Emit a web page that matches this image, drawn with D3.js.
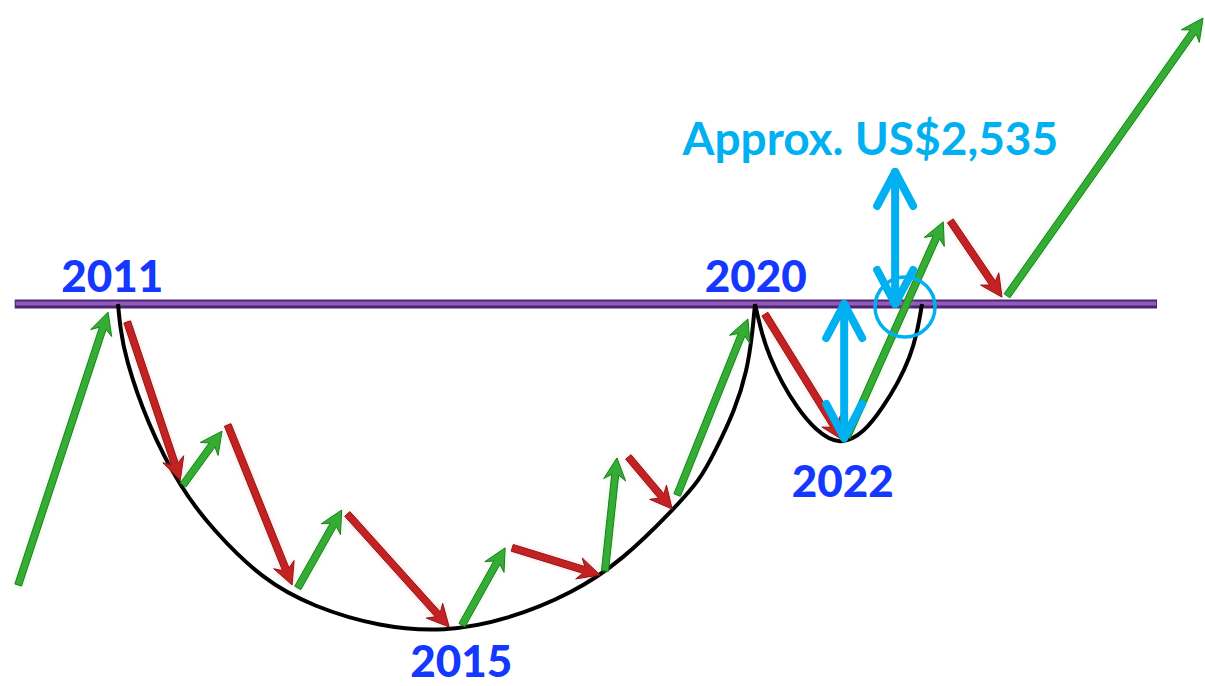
<!DOCTYPE html>
<html>
<head>
<meta charset="utf-8">
<script src="https://cdn.jsdelivr.net/npm/d3@7/dist/d3.min.js"></script>
<style>
  html, body { margin: 0; padding: 0; background: #fff; }
  svg { display: block; }
</style>
</head>
<body>
<svg id="chart"></svg>
<script>
'use strict';

// x in years, y as a price level where the 2011/2020 resistance = 100 and the cup low = 0
var resistance = { from: 2009.54, to: 2025.68, level: 100 };

var cupYears  = [2011, 2011.03, 2011.10, 2011.41, 2011.88, 2012.34, 2013.05, 2013.76, 2014.70, 2015.62, 2016.50, 2017.43, 2018.13, 2018.84, 2019.22, 2019.41, 2019.72, 2019.89, 2019.96, 2020];
var cupLevels = [100, 93, 83.7, 63.5, 43.6, 30.7, 15.3, 7.1, 0.9, -0.6, 3.1, 11.3, 21.5, 36.8, 46.0, 53.7, 67.5, 79.8, 90.5, 100];

var handleYears  = [2020, 2020.10, 2020.21, 2020.38, 2020.59, 2020.85, 2021.20, 2021.55, 2021.81, 2022.02, 2022.19, 2022.29, 2022.36];
var handleLevels = [100, 90.5, 83.7, 75.8, 68.4, 61.3, 56.4, 60.7, 68.4, 75.8, 83.7, 91.1, 100];

// price moves: start year/level -> end year/level, up = green, down = red
var moveFromYear  = [2009.59, 2011.13, 2011.92, 2012.55, 2013.54, 2014.24, 2015.86, 2016.57, 2017.88, 2018.21, 2018.90, 2020.14, 2021.30, 2022.76, 2023.56];
var moveFromLevel = [13.8, 94.5, 44.5, 62.9, 12.9, 35.6, 1.5, 25.2, 18.1, 53.1, 41.4, 96.9, 59.2, 125.5, 102.5];
var moveToYear    = [2010.86, 2011.88, 2012.47, 2013.46, 2014.16, 2015.68, 2016.47, 2017.81, 2018.05, 2018.83, 2019.90, 2021.24, 2022.66, 2023.49, 2026.33];
var moveToLevel   = [97.5, 46.0, 61.0, 13.8, 36.8, 0.9, 25.2, 16.9, 52.8, 37.1, 95.4, 58.3, 125.2, 102.1, 187.7];

// measured distances (double arrows) and breakout marker
var measureYear = [2021.98, 2021.26];
var measureTop  = [140.5, 100];
var measureBot  = [100, 58.9];
var breakout = { year: 2022.12, level: 99.1 };

var labelText  = ['2011', '2020', '2022', '2015'];
var labelYear  = [2010.92, 2020.01, 2021.24, 2015.85];
var labelLevel = [103.7, 103.7, 40.8, -14.4];
var priceLabel = { text: 'Approx. US$2,535', year: 2021.63, level: 145.7 };

var width = 1205, height = 686;

var x = d3.scaleLinear().domain([2011, 2020]).range([118, 755]);
var y = d3.scaleLinear().domain([0, 100]).range([630, 304]);

var svg = d3.select('#chart')
    .attr('width', width)
    .attr('height', height);

// resistance line
var rl = svg.append('g');
rl.append('line')
    .attr('x1', x(resistance.from)).attr('x2', x(resistance.to))
    .attr('y1', y(resistance.level)).attr('y2', y(resistance.level))
    .attr('stroke', '#4e2472').attr('stroke-width', 9);
rl.append('line')
    .attr('x1', x(resistance.from) + 1).attr('x2', x(resistance.to) - 1)
    .attr('y1', y(resistance.level) - 0.5).attr('y2', y(resistance.level) - 0.5)
    .attr('stroke', '#8f5cba').attr('stroke-width', 4);

// cup and handle
var curve = d3.line()
    .x(function(d) { return x(d[0]); })
    .y(function(d) { return y(d[1]); })
    .curve(d3.curveBasis);

svg.append('path')
    .datum(d3.zip(cupYears, cupLevels))
    .attr('d', curve)
    .attr('fill', 'none').attr('stroke', '#000').attr('stroke-width', 4);

svg.append('path')
    .datum(d3.zip(handleYears, handleLevels))
    .attr('d', curve)
    .attr('fill', 'none').attr('stroke', '#000').attr('stroke-width', 4);

// arrows
function arrowPoints(a, b) {
    var dx = b[0] - a[0], dy = b[1] - a[1];
    var L = Math.sqrt(dx * dx + dy * dy);
    var ux = dx / L, uy = dy / L, nx = -uy, ny = ux;
    var sw = 3.5, hl = 22, hw = 11, notch = 5;
    function pt(u, v) { return [a[0] + ux * u + nx * v, a[1] + uy * u + ny * v]; }
    return [pt(0, -sw), pt(L - hl + notch, -sw), pt(L - hl, -hw), pt(L, 0),
            pt(L - hl, hw), pt(L - hl + notch, sw), pt(0, sw)];
}

var moves = moveFromYear.map(function(d, i) {
    return {
        a: [x(d), y(moveFromLevel[i])],
        b: [x(moveToYear[i]), y(moveToLevel[i])],
        up: moveToLevel[i] > moveFromLevel[i]
    };
});

var defs = svg.append('defs');
defs.append('filter').attr('id', 'glow')
    .attr('x', '-20%').attr('y', '-20%').attr('width', '140%').attr('height', '140%')
  .append('feGaussianBlur').attr('stdDeviation', 2.5);

var ag = svg.append('g');
ag.selectAll('polygon.glow')
    .data(moves)
  .enter().append('polygon')
    .attr('class', 'glow')
    .attr('points', function(d) { return arrowPoints(d.a, d.b).join(' '); })
    .attr('fill', function(d) { return d.up ? '#7be07b' : '#f07070'; })
    .attr('opacity', 0.35)
    .attr('filter', 'url(#glow)');

ag.selectAll('polygon.arrow')
    .data(moves)
  .enter().append('polygon')
    .attr('class', 'arrow')
    .attr('points', function(d) { return arrowPoints(d.a, d.b).join(' '); })
    .attr('fill', function(d) { return d.up ? '#33ad33' : '#c42222'; })
    .attr('stroke', function(d) { return d.up ? '#1f7d1f' : '#8e1717'; })
    .attr('stroke-width', 1)
    .attr('stroke-linejoin', 'round');

// measure arrows + breakout circle
var cyan = '#00b0f0';
function chevron(tip, dir) {
    var hl = 34, hw = 18;
    return [[tip[0] - hw, tip[1] + dir * hl], tip, [tip[0] + hw, tip[1] + dir * hl]];
}
var mg = svg.append('g')
    .attr('fill', 'none').attr('stroke', cyan)
    .attr('stroke-width', 8).attr('stroke-linecap', 'round').attr('stroke-linejoin', 'round');

measureYear.forEach(function(yr, i) {
    var top = [x(yr), y(measureTop[i])], bot = [x(yr), y(measureBot[i])];
    mg.append('line').attr('x1', top[0]).attr('y1', top[1]).attr('x2', bot[0]).attr('y2', bot[1]);
    mg.append('polyline').attr('points', chevron(top, 1).join(' '));
    mg.append('polyline').attr('points', chevron(bot, -1).join(' '));
});

svg.append('circle')
    .attr('cx', x(breakout.year)).attr('cy', y(breakout.level)).attr('r', 30)
    .attr('fill', 'none').attr('stroke', cyan).attr('stroke-width', 3.5);

// labels
var font = 'Lato, "Open Sans", sans-serif';
svg.selectAll('text.year')
    .data(labelText)
  .enter().append('text')
    .attr('class', 'year')
    .attr('x', function(d, i) { return x(labelYear[i]); })
    .attr('y', function(d, i) { return y(labelLevel[i]); })
    .attr('text-anchor', 'middle')
    .attr('font-family', font).attr('font-weight', 900).attr('font-size', 44)
    .attr('fill', '#1438ff')
    .text(function(d) { return d; });

svg.append('text')
    .attr('x', x(priceLabel.year)).attr('y', y(priceLabel.level))
    .attr('text-anchor', 'middle')
    .attr('font-family', font).attr('font-weight', 'bold').attr('font-size', 46)
    .attr('fill', cyan)
    .text(priceLabel.text);
</script>
</body>
</html>
